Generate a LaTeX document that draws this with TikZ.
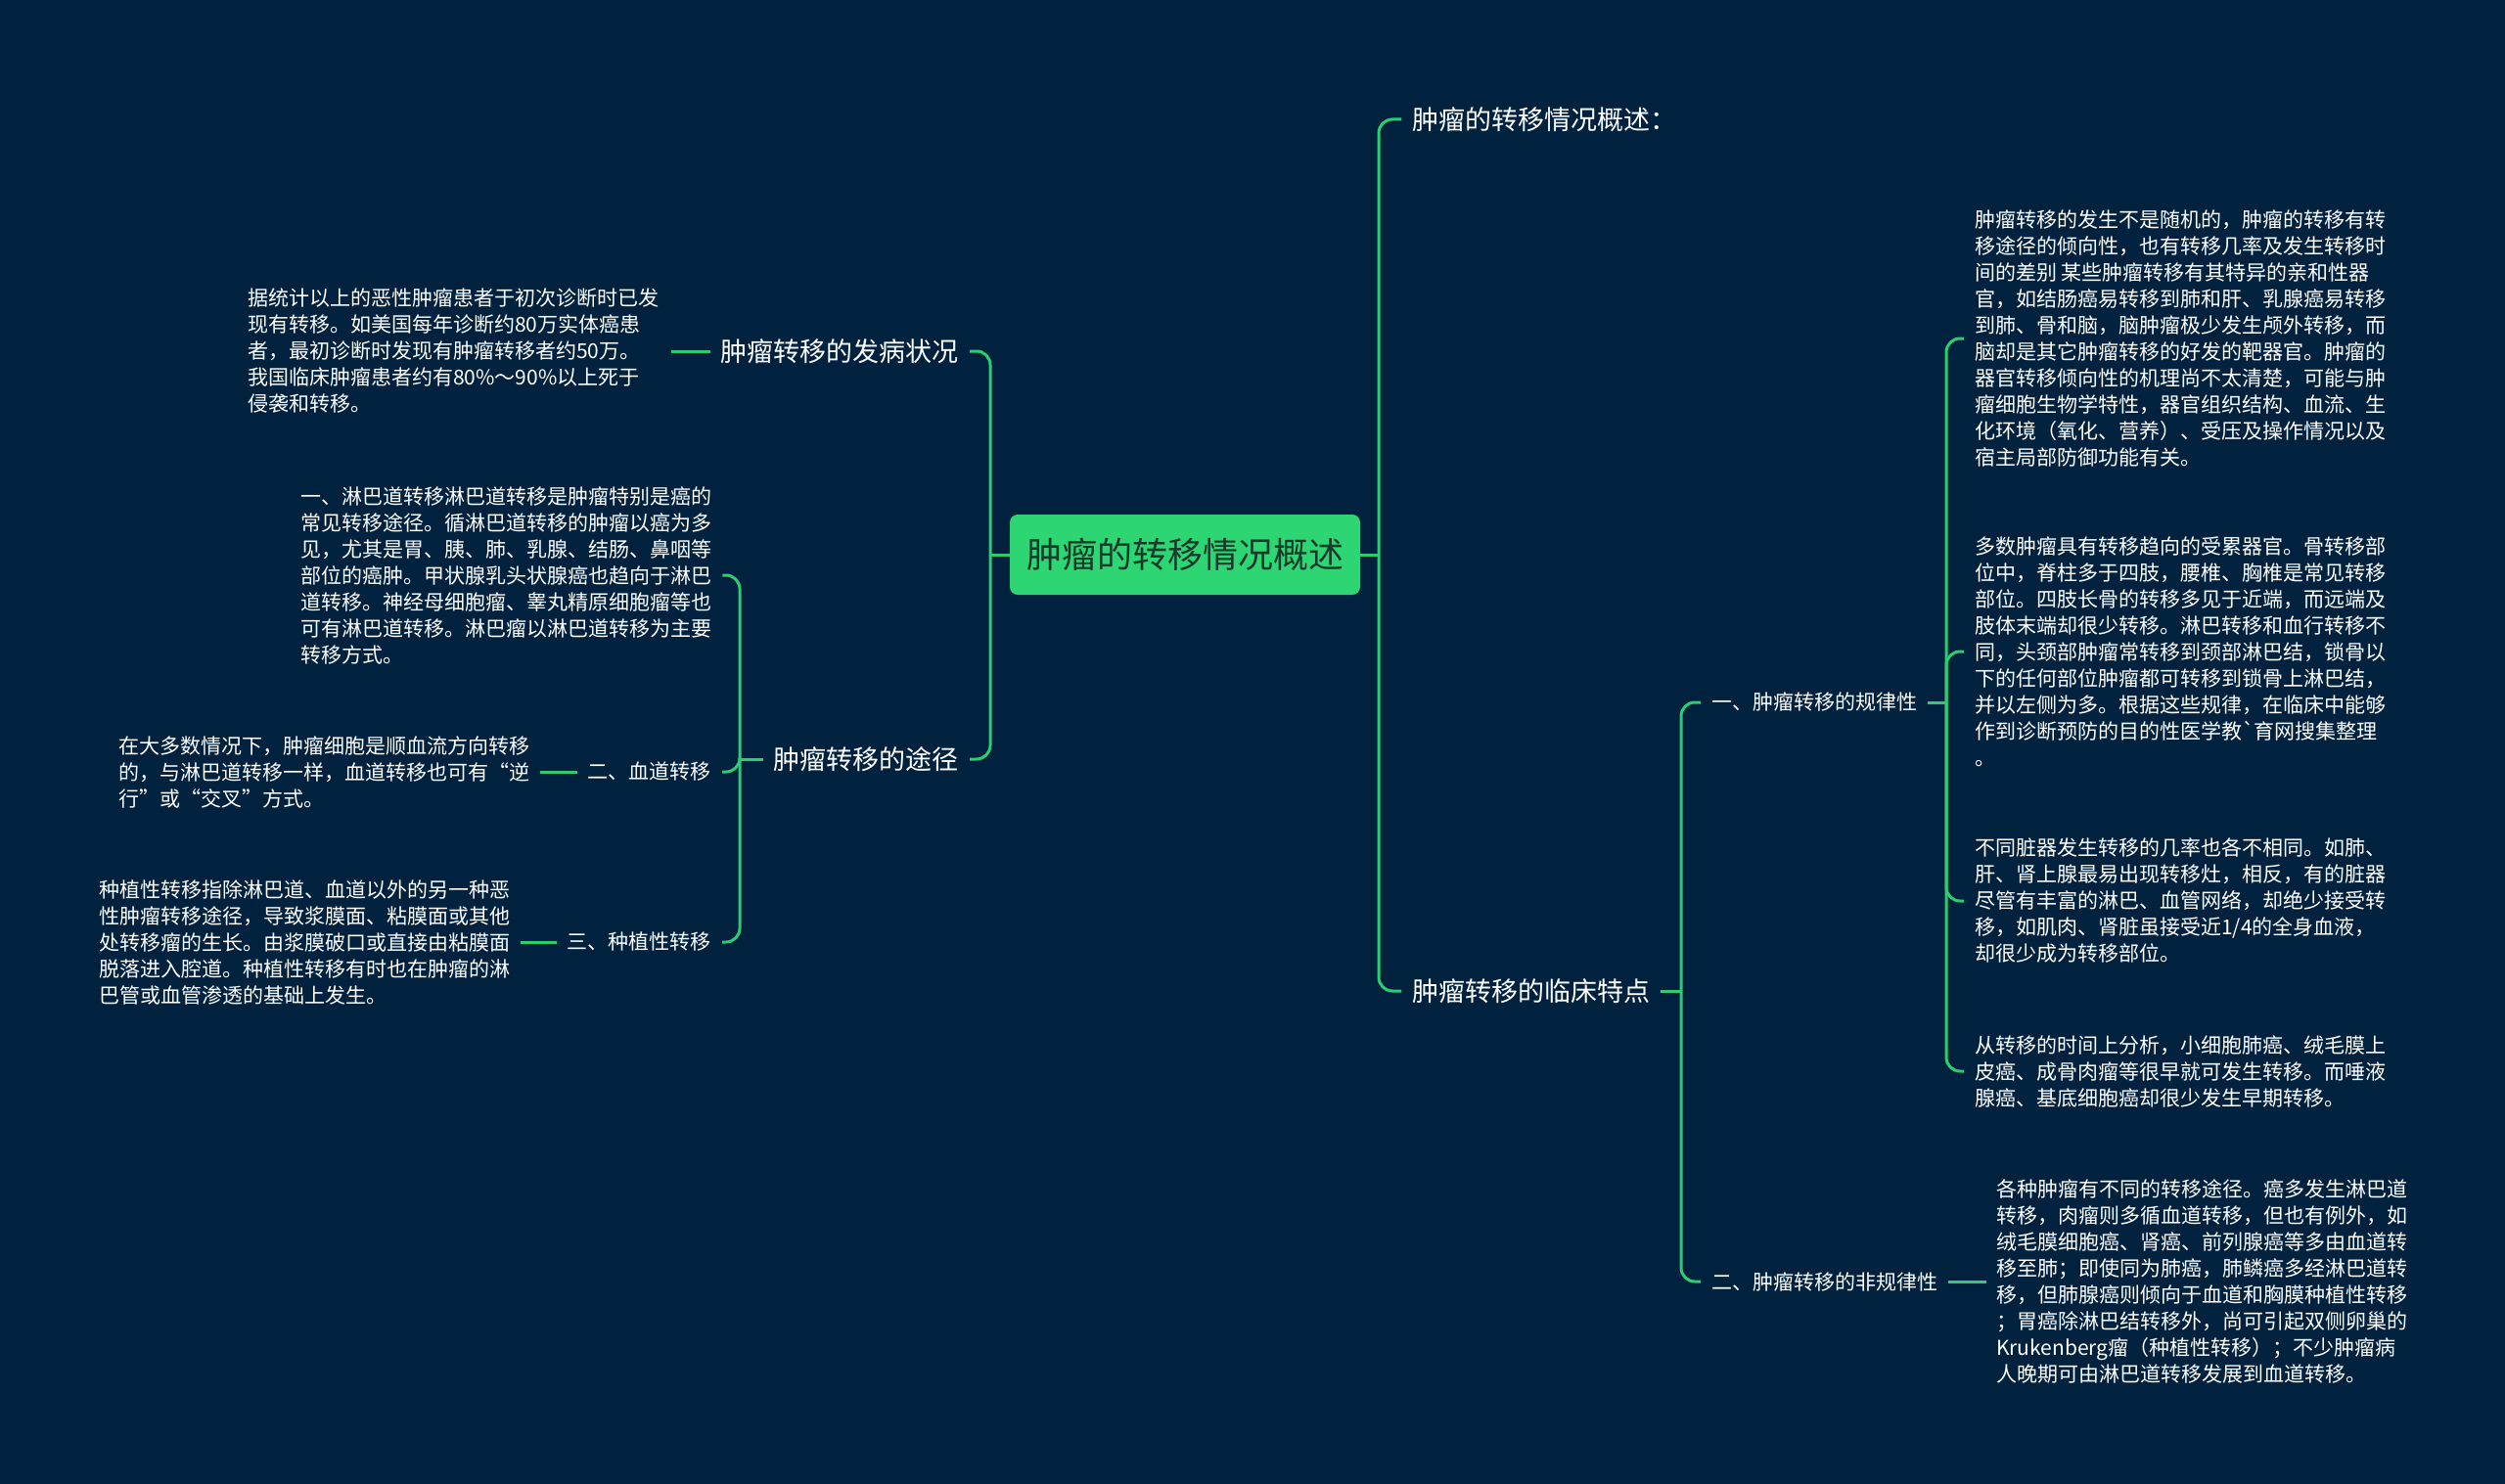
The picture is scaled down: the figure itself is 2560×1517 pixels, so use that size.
\documentclass[tikz,border=0pt]{standalone}
\usepackage{fontspec}
\newfontfamily\cjk{Noto Sans CJK SC}
\definecolor{bg}{HTML}{01223F}
\definecolor{ln}{HTML}{2ECC71}
\definecolor{rootfill}{HTML}{2ED573}
\definecolor{roottext}{HTML}{173A2A}
\begin{document}
\begin{tikzpicture}[x=1pt,y=-1pt,
  conn/.style={draw=ln,line width=3pt,rounded corners=14pt},
  txt/.style={text=white,inner sep=0pt,align=left,font=\cjk\fontsize{21}{27}\selectfont},
  lvone/.style={text=white,inner sep=0pt,font=\cjk\fontsize{27}{32}\selectfont},
  lvtwo/.style={text=white,inner sep=0pt,font=\cjk\fontsize{21}{27}\selectfont},
  rootbox/.style={fill=rootfill,rounded corners=8pt,minimum width=358pt,minimum height=82pt,inner sep=0pt,text=roottext,font=\cjk\fontsize{36}{40}\selectfont}]
\fill[bg] (0,0) rectangle (2560,1517);
\useasboundingbox (0,0) rectangle (2560,1517);

% root
\node[rootbox] (root) at (1211,567) {肿瘤的转移情况概述};

% right side
\node[lvone,anchor=west] (r1) at (1443,122) {肿瘤的转移情况概述：};
\node[lvone,anchor=west] (r2) at (1443,1013) {肿瘤转移的临床特点};
\node[lvtwo,anchor=west] (r2a) at (1749,718) {一、肿瘤转移的规律性};
\node[lvtwo,anchor=west] (r2b) at (1749,1310) {二、肿瘤转移的非规律性};

\node[txt,anchor=west] (la) at (2018,346) {肿瘤转移的发生不是随机的，肿瘤的转移有转\\移途径的倾向性，也有转移几率及发生转移时\\间的差别 某些肿瘤转移有其特异的亲和性器\\官，如结肠癌易转移到肺和肝、乳腺癌易转移\\到肺、骨和脑，脑肿瘤极少发生颅外转移，而\\脑却是其它肿瘤转移的好发的靶器官。肿瘤的\\器官转移倾向性的机理尚不太清楚，可能与肿\\瘤细胞生物学特性，器官组织结构、血流、生\\化环境（氧化、营养）、受压及操作情况以及\\宿主局部防御功能有关。};
\node[txt,anchor=west] (lb) at (2018,666) {多数肿瘤具有转移趋向的受累器官。骨转移部\\位中，脊柱多于四肢，腰椎、胸椎是常见转移\\部位。四肢长骨的转移多见于近端，而远端及\\肢体末端却很少转移。淋巴转移和血行转移不\\同，头颈部肿瘤常转移到颈部淋巴结，锁骨以\\下的任何部位肿瘤都可转移到锁骨上淋巴结，\\并以左侧为多。根据这些规律，在临床中能够\\作到诊断预防的目的性医学教\symbol{96}育网搜集整理\\。};
\node[txt,anchor=west] (lc) at (2018,921) {不同脏器发生转移的几率也各不相同。如肺、\\肝、肾上腺最易出现转移灶，相反，有的脏器\\尽管有丰富的淋巴、血管网络，却绝少接受转\\移，如肌肉、肾脏虽接受近1/4的全身血液，\\却很少成为转移部位。};
\node[txt,anchor=west] (ld) at (2018,1095) {从转移的时间上分析，小细胞肺癌、绒毛膜上\\皮癌、成骨肉瘤等很早就可发生转移。而唾液\\腺癌、基底细胞癌却很少发生早期转移。};
\node[txt,anchor=west] (le) at (2040,1310) {各种肿瘤有不同的转移途径。癌多发生淋巴道\\转移，肉瘤则多循血道转移，但也有例外，如\\绒毛膜细胞癌、肾癌、前列腺癌等多由血道转\\移至肺；即使同为肺癌，肺鳞癌多经淋巴道转\\移，但肺腺癌则倾向于血道和胸膜种植性转移\\；胃癌除淋巴结转移外，尚可引起双侧卵巢的\\Krukenberg瘤（种植性转移）；不少肿瘤病\\人晚期可由淋巴道转移发展到血道转移。};

% left side
\node[lvone,anchor=east] (l1) at (980,359) {肿瘤转移的发病状况};
\node[lvone,anchor=east] (l2) at (980,776) {肿瘤转移的途径};
\node[txt,anchor=west] (l1a) at (253,359) {据统计以上的恶性肿瘤患者于初次诊断时已发\\现有转移。如美国每年诊断约80万实体癌患\\者，最初诊断时发现有肿瘤转移者约50万。\\我国临床肿瘤患者约有80\%～90\%以上死于\\侵袭和转移。};
\node[txt,anchor=west] (l2a) at (307,588) {一、淋巴道转移淋巴道转移是肿瘤特别是癌的\\常见转移途径。循淋巴道转移的肿瘤以癌为多\\见，尤其是胃、胰、肺、乳腺、结肠、鼻咽等\\部位的癌肿。甲状腺乳头状腺癌也趋向于淋巴\\道转移。神经母细胞瘤、睾丸精原细胞瘤等也\\可有淋巴道转移。淋巴瘤以淋巴道转移为主要\\转移方式。};
\node[lvtwo,anchor=east] (l2b) at (727,789) {二、血道转移};
\node[lvtwo,anchor=east] (l2c) at (727,963) {三、种植性转移};
\node[txt,anchor=west] (l2b1) at (121,789) {在大多数情况下，肿瘤细胞是顺血流方向转移\\的，与淋巴道转移一样，血道转移也可有“逆\\行”或“交叉”方式。};
\node[txt,anchor=west] (l2c1) at (101,963) {种植性转移指除淋巴道、血道以外的另一种恶\\性肿瘤转移途径，导致浆膜面、粘膜面或其他\\处转移瘤的生长。由浆膜破口或直接由粘膜面\\脱落进入腔道。种植性转移有时也在肿瘤的淋\\巴管或血管渗透的基础上发生。};

% junctions
\coordinate (jr) at (1409,567);
\coordinate (j2) at (1718,1013);
\coordinate (j3) at (1989,718);
\coordinate (jl) at (1012,567);
\coordinate (j4) at (756,776);

% right connectors
\draw[conn] (root.east) -- (jr);
\draw[conn] (jr) |- ([xshift=-11pt]r1.west);
\draw[conn] (jr) |- ([xshift=-11pt]r2.west);
\draw[conn] ([xshift=11pt]r2.east) -- (j2);
\draw[conn] (j2) |- ([xshift=-11pt]r2a.west);
\draw[conn] (j2) |- ([xshift=-11pt]r2b.west);
\draw[conn] ([xshift=11pt]r2a.east) -- (j3);
\draw[conn] (j3) |- ([xshift=-11pt]la.west);
\draw[conn] (j3) |- ([xshift=-11pt]lb.west);
\draw[conn] (j3) |- ([xshift=-11pt]lc.west);
\draw[conn] (j3) |- ([xshift=-11pt]ld.west);
\draw[conn] ([xshift=11pt]r2b.east) -- ([xshift=-10pt]le.west);

% left connectors
\draw[conn] (root.west) -- (jl);
\draw[conn] (jl) |- ([xshift=11pt]l1.east);
\draw[conn] (jl) |- ([xshift=11pt]l2.east);
\draw[conn] ([xshift=-11pt]l1.west) -- ([xshift=13pt]l1a.east);
\draw[conn] ([xshift=-11pt]l2.west) -- (j4);
\draw[conn] (j4) |- ([xshift=11pt]l2a.east);
\draw[conn] (j4) |- ([xshift=11pt]l2b.east);
\draw[conn] (j4) |- ([xshift=11pt]l2c.east);
\draw[conn] ([xshift=-11pt]l2b.west) -- ([xshift=11pt]l2b1.east);
\draw[conn] ([xshift=-11pt]l2c.west) -- ([xshift=11pt]l2c1.east);
\end{tikzpicture}
\end{document}
